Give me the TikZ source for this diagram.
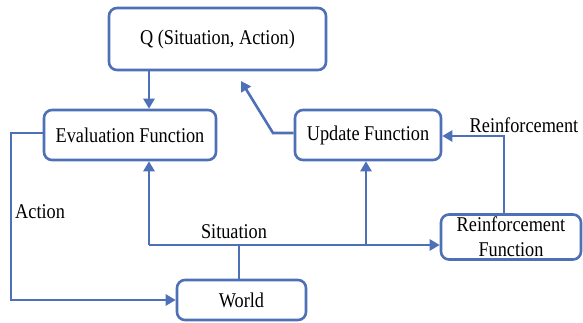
\documentclass[tikz,border=0pt]{standalone}
\usepackage{fontspec}
\setmainfont{Liberation Serif}[FakeStretch=0.87]
\usetikzlibrary{arrows.meta}
\definecolor{flowblue}{RGB}{78,112,182}
\tikzset{
  box/.style={draw=flowblue, line width=2.6pt, rounded corners=8pt,
    fill=white, inner sep=2pt, align=center,
    font=\fontsize{21}{25}\selectfont},
  link/.style={draw=flowblue, line width=2.6pt,
    -{Triangle[length=10pt,width=11pt]}},
  wire/.style={draw=flowblue, line width=2.6pt},
  lbl/.style={font=\fontsize{21}{25}\selectfont, inner sep=0pt}
}
\begin{document}
\begin{tikzpicture}[x=1pt,y=-1pt]
  \useasboundingbox (0,0) rectangle (583,322);

  % the five blocks of the learning loop
  \node[box, minimum width=217pt, minimum height=62pt] (q) at (217.5,39) {Q (Situation, Action)};
  \node[box, minimum width=172pt, minimum height=50pt] (eval) at (130,135) {Evaluation Function};
  \node[box, minimum width=146pt, minimum height=50pt] (upd) at (368,135) {Update Function};
  \node[box, minimum width=140pt, minimum height=45pt] (rf) at (511,237) {Reinforcement\\Function};
  \node[box, minimum width=129pt, minimum height=40pt] (world) at (241.5,300) {World};

  % helper points for the bends
  \coordinate (qin) at (241,81);
  \coordinate (ubend) at (273,133);
  \coordinate (sit) at (239,245);
  \coordinate (sitL) at (149,245);
  \coordinate (sitR) at (366,245);
  \coordinate (actTop) at (11,133);
  \coordinate (actBot) at (11,300);
  \coordinate (rfTop) at (504,215);
  \coordinate (rfBend) at (504,136);

  % Q feeds the evaluation function
  \draw[link] (149,70) -- (eval.north -| 149,0);

  % update function writes back into Q
  \draw[link] (upd.west |- ubend) -- (ubend) -- (qin);

  % reinforcement signal
  \draw[link] (rfTop) -- (rfBend) -- (upd.east |- rfBend);
  \node[lbl] (rlabel) at (524,125) {Reinforcement};

  % action goes out to the world
  \draw[link] (eval.west |- actTop) -- (actTop) -- (actBot) -- (world.west |- actBot);
  \node[lbl, anchor=west] (alabel) at (15,212) {Action};

  % situation is fed back from the world
  \draw[wire] (world.north -| sit) -- (sit);
  \draw[wire] (sitL) -- (sitR);
  \draw[link] (sitL) -- (eval.south -| sitL);
  \draw[link] (sitR) -- (upd.south -| sitR);
  \draw[link] (sitR) -- (rf.west |- sitR);
  \node[lbl] (slabel) at (234,232) {Situation};
\end{tikzpicture}
\end{document}
